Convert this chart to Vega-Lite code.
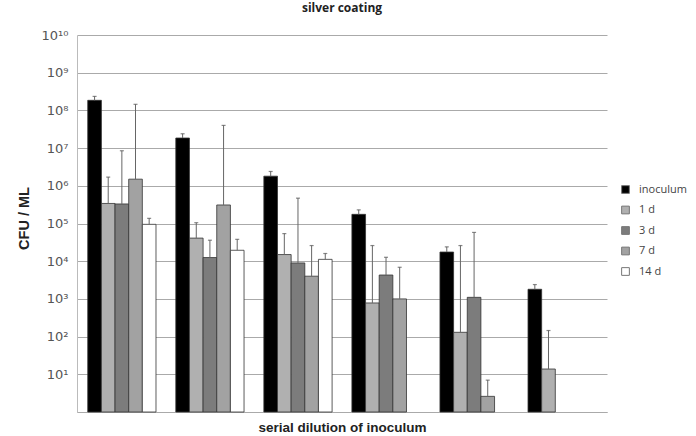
{
  "$schema": "https://vega.github.io/schema/vega-lite/v6.json",
  "autosize": "none",
  "width": 530,
  "height": 377,
  "padding": {"left": 77, "top": 35, "right": 89, "bottom": 24},
  "background": "white",
  "title": {"text": "silver coating", "fontSize": 12, "fontWeight": "bold", "font": "Open Sans", "color": "#222", "offset": 14, "anchor": "middle"},
  "config": {"view": {"stroke": null}, "font": "Liberation Sans"},
  "data": {"values": [
    {"group": "g1", "series": "inoculum", "value": 185000000, "err": 235000000},
    {"group": "g1", "series": "1 d", "value": 340000, "err": 1700000},
    {"group": "g1", "series": "3 d", "value": 330000, "err": 8500000},
    {"group": "g1", "series": "7 d", "value": 1500000, "err": 145000000},
    {"group": "g1", "series": "14 d", "value": 95000, "err": 137000},
    {"group": "g2", "series": "inoculum", "value": 18500000, "err": 24000000},
    {"group": "g2", "series": "1 d", "value": 41000, "err": 105000},
    {"group": "g2", "series": "3 d", "value": 12500, "err": 36000},
    {"group": "g2", "series": "7 d", "value": 310000, "err": 40000000},
    {"group": "g2", "series": "14 d", "value": 19500, "err": 38000},
    {"group": "g3", "series": "inoculum", "value": 1800000, "err": 2400000},
    {"group": "g3", "series": "1 d", "value": 15000, "err": 54000},
    {"group": "g3", "series": "3 d", "value": 9000, "err": 470000},
    {"group": "g3", "series": "7 d", "value": 4000, "err": 26000},
    {"group": "g3", "series": "14 d", "value": 11200, "err": 16000},
    {"group": "g4", "series": "inoculum", "value": 175000, "err": 230000},
    {"group": "g4", "series": "1 d", "value": 780, "err": 26000},
    {"group": "g4", "series": "3 d", "value": 4300, "err": 12700},
    {"group": "g4", "series": "7 d", "value": 1000, "err": 6900},
    {"group": "g5", "series": "inoculum", "value": 17500, "err": 24000},
    {"group": "g5", "series": "1 d", "value": 130, "err": 26000},
    {"group": "g5", "series": "3 d", "value": 1100, "err": 58000},
    {"group": "g5", "series": "7 d", "value": 2.6, "err": 7},
    {"group": "g6", "series": "inoculum", "value": 1800, "err": 2400},
    {"group": "g6", "series": "1 d", "value": 13.8, "err": 145}
  ]},
  "encoding": {
    "x": {"field": "group", "type": "nominal", "sort": ["g1","g2","g3","g4","g5","g6"],
      "scale": {"paddingInner": 0.225, "paddingOuter": 0.122},
      "axis": {"labels": false, "ticks": false, "grid": false, "domain": true, "domainColor": "#aaa", "domainWidth": 1,
        "title": "serial dilution of inoculum", "titleFontSize": 13.5, "titleFontWeight": "bold", "titleFont": "Liberation Sans", "titleColor": "#222", "titlePadding": 8}},
    "xOffset": {"field": "series", "type": "nominal", "sort": ["inoculum","1 d","3 d","7 d","14 d"], "scale": {"paddingInner": 0, "paddingOuter": 0}}
  },
  "layer": [
    {
      "mark": {"type": "bar", "stroke": "#333", "strokeWidth": 0.8},
      "encoding": {
        "y": {"field": "value", "type": "quantitative", "stack": null,
          "scale": {"type": "log", "domain": [1, 10000000000], "nice": false},
          "axis": {"values": [1,10,100,1000,10000,100000,1000000,10000000,100000000,1000000000,10000000000],
            "labelExpr": "datum.value < 5 ? '' : '10' + ['','¹','²','³','⁴','⁵','⁶','⁷','⁸','⁹','¹⁰'][round(log(datum.value)/LN10)]",
            "grid": true, "gridColor": "#aaa", "gridWidth": 1, "ticks": false, "domain": true, "domainColor": "#bbb",
            "labelFontSize": 13, "labelColor": "#555", "labelPadding": 9, "labelFont": "DejaVu Sans",
            "title": "CFU / ML", "titleFontSize": 14.5, "titleFontWeight": "bold", "titleFont": "Liberation Sans", "titleColor": "#222", "titleX": -46, "titleY": 183}},
        "y2": {"datum": 1},
        "fill": {"field": "series", "type": "nominal", "sort": ["inoculum","1 d","3 d","7 d","14 d"],
          "scale": {"domain": ["inoculum","1 d","3 d","7 d","14 d"], "range": ["#000000","#b0b0b0","#7c7c7c","#a2a2a2","#ffffff"]},
          "legend": {"title": null, "orient": "none", "legendX": 543, "legendY": 149, "symbolType": "square", "symbolSize": 60,
            "symbolStrokeColor": "#777", "symbolStrokeWidth": 1, "labelFontSize": 11, "labelColor": "#444", "labelFont": "Open Sans", "rowPadding": 7.5, "labelOffset": 8}}
      }
    },
    {
      "mark": {"type": "rule", "color": "#666", "strokeWidth": 1},
      "encoding": {
        "y": {"field": "value", "type": "quantitative"},
        "y2": {"field": "err"}
      }
    },
    {
      "mark": {"type": "tick", "color": "#555", "thickness": 1.2, "size": 4},
      "encoding": {
        "y": {"field": "err", "type": "quantitative"}
      }
    }
  ]
}
